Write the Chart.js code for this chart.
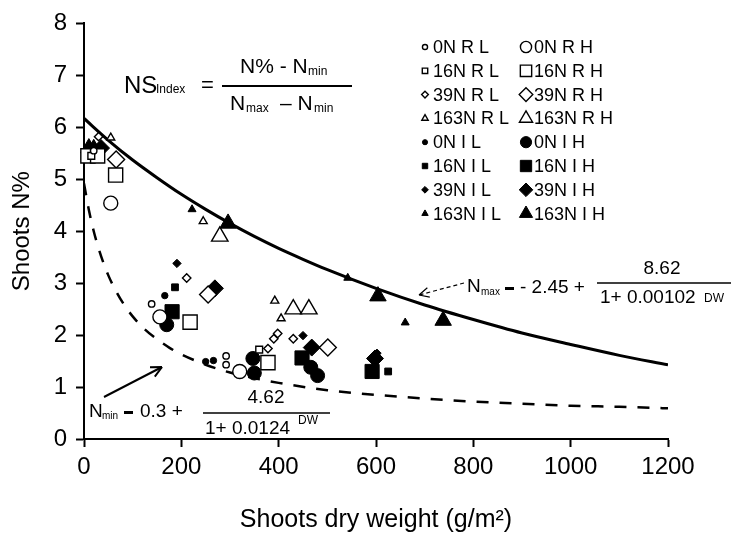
<!DOCTYPE html>
<html lang="en">
<head>
<meta charset="UTF-8" />
<title>Shoots N%</title>
<script src="https://cdn.jsdelivr.net/npm/chart.js"></script>
<style>
  body { margin: 0; background: #fff; }
  #wrap { width: 731px; height: 542px; }
</style>
</head>
<body>
<div id="wrap"><canvas id="myChart" width="731" height="542"></canvas></div>
<script>
// shoots dry weight (g/m2) vs shoots N%
const seriesNames = ["0NRL", "0NRH", "16NRL", "16NRH", "39NRL", "39NRH", "163NRL", "163NRH",
                     "0NIL", "0NIH", "16NIL", "16NIH", "39NIL", "39NIH", "163NIL", "163NIH"];
const legendLabels = ["0N R L", "0N R H", "16N R L", "16N R H", "39N R L", "39N R H", "163N R L", "163N R H",
                      "0N I L", "0N I H", "16N I L", "16N I H", "39N I L", "39N I H", "163N I L", "163N I H"];

const dw_0NRL = [20, 139, 292, 292];
const n_0NRL  = [5.55, 2.6, 1.6, 1.43];
const dw_0NRH = [55, 156, 320];
const n_0NRH  = [4.54, 2.35, 1.3];
const dw_16NRL = [15, 360];
const n_16NRL  = [5.45, 1.72];
const dw_16NRH = [8, 28, 65, 218, 378];
const n_16NRH  = [5.45, 5.45, 5.08, 2.25, 1.47];
const dw_39NRL = [30, 211, 378, 390, 398, 430];
const n_39NRL  = [5.82, 3.1, 1.74, 1.93, 2.03, 1.93];
const dw_39NRH = [66, 255, 501];
const n_39NRH  = [5.38, 2.78, 1.76];
const dw_163NRL = [55, 245, 392, 405];
const n_163NRL  = [5.8, 4.19, 2.66, 2.32];
const dw_163NRH = [279, 430, 462];
const n_163NRH  = [3.9, 2.5, 2.5];
const dw_0NIL = [22, 166, 250, 266];
const n_0NIL  = [5.55, 2.76, 1.49, 1.51];
const dw_0NIH = [12, 170, 347, 350, 466, 480];
const n_0NIH  = [5.55, 2.2, 1.55, 1.27, 1.38, 1.22];
const dw_16NIL = [187, 625];
const n_16NIL  = [2.92, 1.3];
const dw_16NIH = [14, 181, 448, 592];
const n_16NIH  = [5.5, 2.45, 1.56, 1.3];
const dw_39NIL = [25, 191, 450, 602];
const n_39NIL  = [5.6, 3.38, 1.99, 1.65];
const dw_39NIH = [35, 269, 468, 598];
const n_39NIH  = [5.6, 2.9, 1.76, 1.55];
const dw_163NIL = [20, 222, 542, 660];
const n_163NIL  = [5.68, 4.42, 3.1, 2.24];
const dw_163NIH = [10, 296, 604, 738];
const n_163NIH  = [5.6, 4.15, 2.75, 2.28];

// Nmax and Nmin curves read along the x axis
const dwMax = [0, 50, 100, 150, 200, 250, 300, 350, 400, 450, 500, 600, 700, 800, 900, 1000, 1100, 1200];
const nMax  = [6.17, 5.75, 5.37, 5.03, 4.71, 4.42, 4.15, 3.9, 3.67, 3.46, 3.26, 2.9, 2.58, 2.3, 2.04, 1.82, 1.61, 1.43];
const dwMin = [0, 10, 20, 30, 40, 50, 60, 80, 100, 125, 150, 175, 200, 250, 300, 350, 400, 500, 600, 700, 800, 900, 1000, 1100, 1200];
const nMin  = [4.92, 4.41, 4.0, 3.67, 3.39, 3.15, 2.95, 2.62, 2.36, 2.11, 1.92, 1.76, 1.63, 1.43, 1.28, 1.17, 1.08, 0.94, 0.85, 0.78, 0.72, 0.68, 0.64, 0.62, 0.59];

const xTicks = [0, 200, 400, 600, 800, 1000, 1200];
const yTicks = [0, 1, 2, 3, 4, 5, 6, 7, 8];

const seriesX = [dw_0NRL, dw_0NRH, dw_16NRL, dw_16NRH, dw_39NRL, dw_39NRH, dw_163NRL, dw_163NRH,
                 dw_0NIL, dw_0NIH, dw_16NIL, dw_16NIH, dw_39NIL, dw_39NIH, dw_163NIL, dw_163NIH];
const seriesY = [n_0NRL, n_0NRH, n_16NRL, n_16NRH, n_39NRL, n_39NRH, n_163NRL, n_163NRH,
                 n_0NIL, n_0NIH, n_16NIL, n_16NIH, n_39NIL, n_39NIH, n_163NIL, n_163NIH];

const FONT = "'Liberation Sans', Arial, sans-serif";

// marker style per series: shape, radius, filled
const shapes = ["circle", "rect", "rectRot", "triangle"];
const smallR = { circle: 3.2, rect: 4.8, rectRot: 4.2, triangle: 4.6 };
const bigR = { circle: 7, rect: 10, rectRot: 8.5, triangle: 9.5 };
function markerOf(i) {
  const shape = shapes[Math.floor((i % 8) / 2)];
  const big = i % 2 === 1;
  const filled = i >= 8;
  return { shape, r: big ? bigR[shape] : smallR[shape], filled };
}

const datasets = seriesNames.map((name, i) => {
  const m = markerOf(i);
  return {
    label: name,
    data: seriesX[i].map((x, k) => ({ x, y: seriesY[i][k] })),
    pointStyle: m.shape,
    pointRadius: m.r,
    pointBackgroundColor: m.filled ? "#000" : "#fff",
    pointBorderColor: "#000",
    pointBorderWidth: m.filled ? 1 : 1.4,
    showLine: false,
    clip: false,
    order: 1
  };
});
datasets.push({
  label: "Nmax",
  data: dwMax.map((x, k) => ({ x, y: nMax[k] })),
  showLine: true, borderColor: "#000", borderWidth: 3, pointRadius: 0,
  cubicInterpolationMode: "monotone", order: 5
});
datasets.push({
  label: "Nmin",
  data: dwMin.map((x, k) => ({ x, y: nMin[k] })),
  showLine: true, borderColor: "#000", borderWidth: 2.5, borderDash: [12, 11], pointRadius: 0,
  cubicInterpolationMode: "monotone", order: 5
});

function drawMarker(ctx, m, x, y) {
  ctx.save();
  ctx.beginPath();
  const r = m.r;
  if (m.shape === "circle") {
    ctx.arc(x, y, r, 0, Math.PI * 2);
  } else if (m.shape === "rect") {
    const s = r * Math.SQRT1_2;
    ctx.rect(x - s, y - s, 2 * s, 2 * s);
  } else if (m.shape === "rectRot") {
    ctx.moveTo(x, y - r); ctx.lineTo(x + r, y); ctx.lineTo(x, y + r); ctx.lineTo(x - r, y);
  } else {
    for (let k = 0; k < 3; k++) {
      const a = k * 2 * Math.PI / 3;
      const px = x + Math.sin(a) * r, py = y - Math.cos(a) * r;
      if (k === 0) ctx.moveTo(px, py); else ctx.lineTo(px, py);
    }
  }
  ctx.closePath();
  ctx.fillStyle = m.filled ? "#000" : "#fff";
  ctx.fill();
  ctx.lineWidth = m.filled ? 1 : 1.4;
  ctx.strokeStyle = "#000";
  ctx.stroke();
  ctx.restore();
}

function txt(ctx, s, x, y, size, align) {
  ctx.font = size + "px " + FONT;
  ctx.textAlign = align || "left";
  ctx.textBaseline = "middle";
  ctx.fillText(s, x, y);
}

function arrowHead(ctx, x0, y0, x1, y1, len) {
  const a = Math.atan2(y1 - y0, x1 - x0);
  ctx.beginPath();
  ctx.moveTo(x1, y1);
  ctx.lineTo(x1 - len * Math.cos(a - 0.45), y1 - len * Math.sin(a - 0.45));
  ctx.moveTo(x1, y1);
  ctx.lineTo(x1 - len * Math.cos(a + 0.45), y1 - len * Math.sin(a + 0.45));
  ctx.stroke();
}

const extras = {
  id: "extras",
  afterDraw(chart) {
    const ctx = chart.ctx;
    ctx.save();
    ctx.fillStyle = "#000";
    ctx.strokeStyle = "#000";

    // legend, two columns
    for (let i = 0; i < 16; i++) {
      const col = i % 2, row = Math.floor((i % 8) / 2) + (i >= 8 ? 4 : 0);
      const mx = col ? 526 : 425, y = 47 + row * 23.8;
      const m = markerOf(i);
      const lm = { shape: m.shape, r: m.r * 0.8, filled: m.filled };
      drawMarker(ctx, lm, mx, y);
      txt(ctx, legendLabels[i], mx + 8, y + 1, 18);
    }

    // NS index formula
    txt(ctx, "NS", 124, 86, 24);
    txt(ctx, "Index", 156, 90, 12);
    txt(ctx, "=", 201, 86, 22);
    ctx.lineWidth = 2;
    ctx.beginPath(); ctx.moveTo(222, 86); ctx.lineTo(352, 86); ctx.stroke();
    txt(ctx, "N% - N", 240, 67, 21);
    txt(ctx, "min", 308, 72, 12);
    txt(ctx, "N", 230, 104, 21);
    txt(ctx, "max", 246, 109, 12);
    txt(ctx, "\u2013 N", 280, 104, 21);
    txt(ctx, "min", 314, 109, 12);

    // Nmax formula and arrow
    txt(ctx, "N", 467, 287, 19);
    txt(ctx, "max", 481, 292, 10);
    ctx.fillRect(505, 287, 9, 3);
    txt(ctx, "- 2.45 +", 520, 288, 19);
    ctx.lineWidth = 1.5;
    ctx.beginPath(); ctx.moveTo(597, 283); ctx.lineTo(731, 283); ctx.stroke();
    txt(ctx, "8.62", 662, 269, 19, "center");
    txt(ctx, "1+ 0.00102", 600, 298, 19);
    txt(ctx, "DW", 704, 299, 12);
    ctx.lineWidth = 1.2;
    ctx.setLineDash([4, 3]);
    ctx.beginPath(); ctx.moveTo(464, 283); ctx.lineTo(419, 295); ctx.stroke();
    ctx.setLineDash([]);
    arrowHead(ctx, 464, 283, 419, 295, 11);

    // Nmin formula and arrow
    txt(ctx, "N", 89, 412, 19);
    txt(ctx, "min", 102, 416, 10);
    ctx.fillRect(124, 411, 9, 3);
    txt(ctx, "0.3 +", 140, 412, 19);
    ctx.lineWidth = 1.5;
    ctx.beginPath(); ctx.moveTo(203, 413); ctx.lineTo(330, 413); ctx.stroke();
    txt(ctx, "4.62", 266, 398, 19, "center");
    txt(ctx, "1+ 0.0124", 205, 429, 19);
    txt(ctx, "DW", 298, 421, 12);
    ctx.lineWidth = 2;
    ctx.beginPath(); ctx.moveTo(104, 397); ctx.lineTo(162, 367); ctx.stroke();
    arrowHead(ctx, 104, 397, 162, 367, 12);

    ctx.restore();
  }
};

const config = {
  type: "scatter",
  data: { datasets },
  options: {
    responsive: false,
    animation: false,
    layout: { padding: { left: 0, right: 63, top: 21, bottom: 0 } },
    plugins: { legend: { display: false }, tooltip: { enabled: false } },
    scales: {
      x: {
        type: "linear", min: 0, max: 1200,
        afterBuildTicks: (s) => { s.ticks = xTicks.map(v => ({ value: v })); },
        afterFit: (s) => { s.height = 103; },
        ticks: { color: "#000", font: { family: FONT, size: 24 }, padding: 6, callback: (v) => String(v) },
        grid: { drawOnChartArea: false, color: "#000", tickLength: 8, tickWidth: 2 },
        border: { color: "#000", width: 2 },
        title: { display: true, text: "Shoots dry weight (g/m\u00b2)", color: "#000",
                 font: { family: FONT, size: 25 }, padding: { top: 6, bottom: 7 } }
      },
      y: {
        type: "linear", min: 0, max: 8,
        afterBuildTicks: (s) => { s.ticks = yTicks.map(v => ({ value: v })); },
        afterFit: (s) => { s.width = 84; },
        ticks: { color: "#000", font: { family: FONT, size: 24 }, padding: 9, callback: (v) => String(v) },
        grid: { drawOnChartArea: false, color: "#000", tickLength: 8, tickWidth: 2 },
        border: { color: "#000", width: 2 },
        title: { display: true, text: "Shoots N%", color: "#000",
                 font: { family: FONT, size: 24 }, padding: { top: 8, bottom: 0 } }
      }
    }
  },
  plugins: [extras]
};

const myChart = document.getElementById("myChart");
myChart.style.backgroundColor = "white";
new Chart(myChart, config);
</script>
</body>
</html>
